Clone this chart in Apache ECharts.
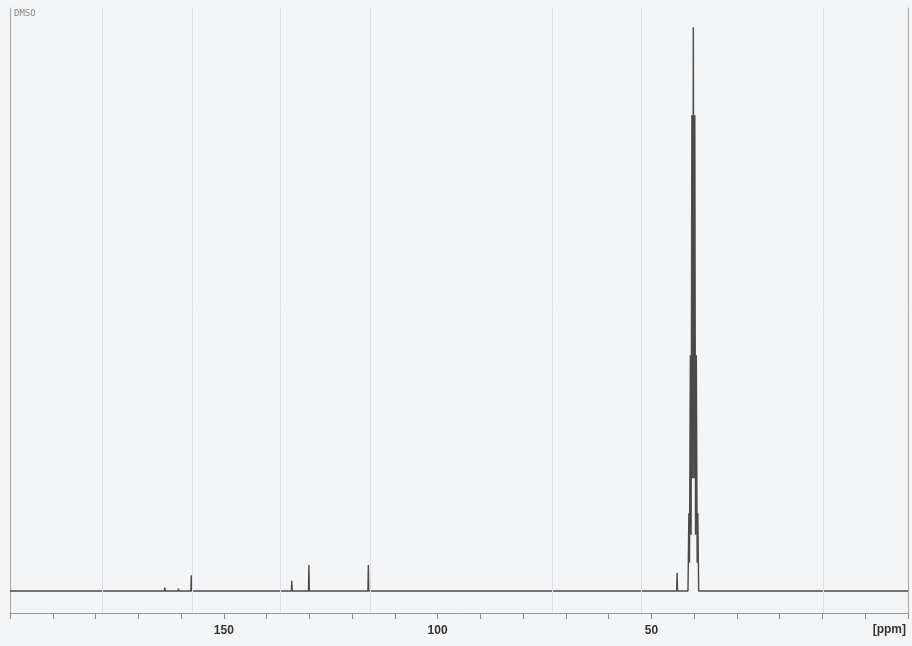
<!DOCTYPE html>
<html>
<head>
<meta charset="utf-8">
<script src="https://cdn.jsdelivr.net/npm/echarts@6/dist/echarts.min.js"></script>
<style>
html,body{margin:0;padding:0;background:#f4f5f7;}
#chart{width:912px;height:646px;}
</style>
</head>
<body>
<div id="chart"></div>
<script>
// Chemical shift (ppm) and relative intensity (% of tallest line)
const shiftPpm = [
  200,
  163.9, 163.8, 163.7,
  160.7, 160.6, 160.5,
  157.7, 157.6, 157.5,
  134.2, 134.1, 134.0,
  130.2, 130.1, 130.0,
  116.3, 116.2, 116.1,
  44.1, 44.0, 43.9,
  41.45, 41.25, 41.1, 40.9, 40.72, 40.55, 40.38, 40.2, 40.02, 39.85, 39.68, 39.5, 39.3, 39.15, 38.95,
  -10
];
const intensity = [
  0,
  0, 0.6, 0,
  0, 0.4, 0,
  0, 2.8, 0,
  0, 1.8, 0,
  0, 4.6, 0,
  0, 4.6, 0,
  0, 3.2, 0,
  0, 13.8, 5, 41.8, 10, 84.4, 20, 100, 20, 84.4, 10, 41.8, 5, 13.8, 0,
  0
];
// faint vertical lines of the printed page (ppm positions)
const pageLinePpm = [178.5, 157.3, 136.8, 115.7, 73.3, 52.3, 9.8];
// tick labels shown on the axis
const tickLabels = [150, 100, 50];
const solventLabel = 'DMSO';
const unitLabel = '[ppm]';

const spectrum = shiftPpm.map((p, i) => [p, intensity[i]]);

const chart = echarts.init(document.getElementById('chart'));
chart.setOption({
  animation: false,
  backgroundColor: '#f4f5f7',
  grid: { left: 10, right: 4, top: 8, bottom: 33 },
  xAxis: {
    type: 'value', min: -10, max: 200, interval: 10, inverse: true,
    axisLine: { show: true, onZero: false, lineStyle: { color: '#9a9a9a', width: 1 } },
    axisTick: { show: true, inside: false, length: 6, lineStyle: { color: '#8a8a8a' } },
    axisLabel: {
      margin: 12, fontSize: 12, fontWeight: 'bold', color: '#333',
      fontFamily: 'Liberation Sans, Arial, sans-serif',
      formatter: v => tickLabels.includes(v) ? String(v) : ''
    },
    splitLine: { show: false }
  },
  yAxis: [
    { type: 'value', min: -3.9, max: 103.4, position: 'left',
      axisLine: { show: true, onZero: false, lineStyle: { color: '#a5a5a5' } },
      axisTick: { show: false }, axisLabel: { show: false }, splitLine: { show: false } },
    { type: 'value', min: -3.9, max: 103.4, position: 'right',
      axisLine: { show: true, onZero: false, lineStyle: { color: '#a5a5a5' } },
      axisTick: { show: false }, axisLabel: { show: false }, splitLine: { show: false } }
  ],
  graphic: [
    { type: 'text', left: 14, top: 9,
      style: { text: solventLabel, fontSize: 9, fill: '#8a8a8a', fontFamily: 'DejaVu Sans Mono, monospace' } },
    { type: 'text', right: 6, top: 624,
      style: { text: unitLabel, fontSize: 12, fontWeight: 'bold', fill: '#333', fontFamily: 'Liberation Sans, Arial, sans-serif' } }
  ],
  series: [
    {
      type: 'line', data: spectrum, symbol: 'none', silent: true,
      lineStyle: { color: '#4a4a4a', width: 1.4 },
      markLine: {
        silent: true, symbol: 'none', label: { show: false },
        lineStyle: { color: '#dddfe2', width: 1, type: 'solid' },
        data: pageLinePpm.map(p => ({ xAxis: p }))
      },
      z: 3
    }
  ]
});
</script>
</body>
</html>
